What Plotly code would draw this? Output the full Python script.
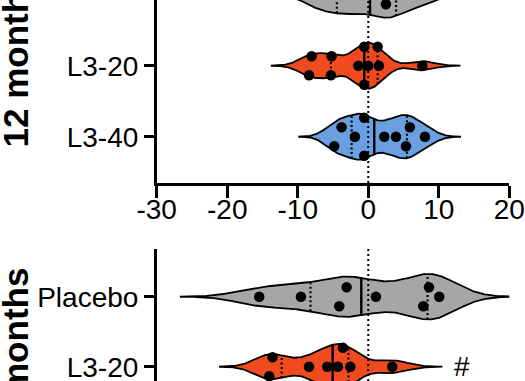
import numpy as np
import plotly.graph_objects as go

# ---------------- data ----------------
x_ticks = [-30, -20, -10, 0, 10, 20]
x_tick_labels = [str(t) for t in x_ticks]

# top panel (12 months); Placebo row is mostly outside the visible crop
top_categories = ["Placebo", "L3-20", "L3-40"]
placebo_12m = [-8.2, -6.3, -4.8, -3.4, -2.0, -0.6, 1.1, 2.5, 2.9, 4.3, 6.0, 8.3]
l3_20_12m = [-8.4, -8.03, -5.3, -5.2, -1.4, -0.57, -0.57, 0.0, 1.33, 1.5, 7.66]
l3_40_12m = [-4.82, -3.78, -1.89, -0.57, -0.57, 2.27, 3.93, 5.35, 5.9, 8.04]

# bottom panel ("... months")
bottom_categories = ["Placebo", "L3-20"]
placebo_b = [-15.46, -9.55, -4.11, -3.07, 1.09, 7.8, 8.61, 10.07]
l3_20_b = [-14.04, -13.57, -8.4, -5.8, -4.3, -3.6, -2.55, 3.4]

colors = {"Placebo": "#a6a6a6", "L3-20": "#f04a1e", "L3-40": "#6aa0e0"}

FONT = "Liberation Sans, Arial, sans-serif"
W, H = 525, 381

# layout geometry (pixels)
X0_PX, X1_PX = 156.7, 509.3
TOP_BOTTOM_PX = 183.0
BOT_TOP_PX = 249.0
top_range = [-0.652, 1.925]
bot_range = [-0.204, 1.681]
sx = (X1_PX - X0_PX) / 50.0          # px per x unit
sy_top = TOP_BOTTOM_PX / (top_range[1] - top_range[0])
sy_bot = (H - BOT_TOP_PX) / (bot_range[1] - bot_range[0])
HALF = 0.325                          # max half width of violins (category units)


def quartiles(v):
    return np.percentile(v, [25, 50, 75], method="weibull")


def bandwidth(v):
    v = np.asarray(v, float)
    q1, _, q3 = quartiles(v)
    return 0.58 * min(v.std(ddof=1), (q3 - q1) / 1.349) * len(v) ** -0.2


def kde(v, h, ext=3.2, n=400):
    v = np.asarray(v, float)
    g = np.linspace(v.min() - ext * h, v.max() + ext * h, n)
    d = np.exp(-0.5 * ((g[:, None] - v[None, :]) / h) ** 2).sum(1)
    return g, d / d.max()


def swarm(v, sy, d=9.6, s=9.5):
    """Beeswarm-style vertical offsets (in axis units) computed from the values."""
    v = np.asarray(v, float)
    order = np.argsort(v, kind="stable")
    placed = []
    off = np.zeros(len(v))
    cands = [0.0]
    for j in range(1, 6):
        cands += [2 * j * s, -2 * j * s]
    for i in order:
        xp = v[i] * sx
        for c in cands:
            if all((xp - px) ** 2 + (c - py) ** 2 >= d * d for px, py in placed):
                break
        placed.append((xp, c))
        off[i] = c
    # isolated close pairs are split symmetrically
    xs = v[order] * sx
    groups = [[order[0]]]
    for a, b, idx in zip(xs[:-1], xs[1:], order[1:]):
        if b - a < d:
            groups[-1].append(idx)
        else:
            groups.append([idx])
    for gr in groups:
        if len(gr) == 2:
            off[gr[0]], off[gr[1]] = -s, s
    return off / sy


fig = go.Figure()


def add_violin(vals, pos, name, xa, ya, sy):
    vals = np.asarray(vals, float)
    h = bandwidth(vals)
    g, d = kde(vals, h)
    fig.add_trace(go.Scatter(
        x=np.concatenate([g, g[::-1]]),
        y=np.concatenate([pos + HALF * d, (pos - HALF * d)[::-1]]),
        fill="toself", fillcolor=colors[name], mode="lines",
        line=dict(color="black", width=1.8), xaxis=xa, yaxis=ya,
        hoverinfo="skip", showlegend=False))
    q1, med, q3 = quartiles(vals)
    qx, qy = [], []
    for q in (q1, q3):
        w = HALF * np.interp(q, g, d)
        qx += [q, q, None]
        qy += [pos - w, pos + w, None]
    fig.add_trace(go.Scatter(x=qx, y=qy, mode="lines",
                             line=dict(color="black", width=2.2, dash="2px,2.5px"),
                             xaxis=xa, yaxis=ya, hoverinfo="skip", showlegend=False))
    w = HALF * np.interp(med, g, d)
    fig.add_trace(go.Scatter(x=[med, med], y=[pos - w, pos + w], mode="lines",
                             line=dict(color="black", width=2.4),
                             xaxis=xa, yaxis=ya, hoverinfo="skip", showlegend=False))
    off = swarm(vals, sy)
    fig.add_trace(go.Scatter(x=vals, y=pos + off, mode="markers",
                             marker=dict(color="black", size=10.5),
                             xaxis=xa, yaxis=ya, hoverinfo="skip", showlegend=False))


top_pos = {"Placebo": 2, "L3-20": 1, "L3-40": 0}
bot_pos = {"Placebo": 1, "L3-20": 0}

add_violin(placebo_12m, top_pos["Placebo"], "Placebo", "x", "y", sy_top)
add_violin(l3_20_12m, top_pos["L3-20"], "L3-20", "x", "y", sy_top)
add_violin(l3_40_12m, top_pos["L3-40"], "L3-40", "x", "y", sy_top)
add_violin(placebo_b, bot_pos["Placebo"], "Placebo", "x2", "y2", sy_bot)
add_violin(l3_20_b, bot_pos["L3-20"], "L3-20", "x2", "y2", sy_bot)

TICK_SIZE = 28
xdom = [X0_PX / W, X1_PX / W]
axis_common = dict(showline=True, linecolor="black", linewidth=2.5, ticks="outside",
                   tickcolor="black", tickwidth=2.5, showgrid=False, zeroline=False,
                   automargin=False, ticklabeloverflow="allow",
                   tickfont=dict(family=FONT, size=TICK_SIZE, color="black"))

fig.update_layout(
    template="none",
    width=W, height=H, margin=dict(l=0, r=0, t=0, b=0, pad=0, autoexpand=False),
    paper_bgcolor="white", plot_bgcolor="white",
    font=dict(family=FONT, color="black"),
    xaxis=dict(domain=xdom, range=[-30, 20], anchor="y", tickvals=x_ticks,
               ticktext=x_tick_labels, ticklen=12, ticklabelstandoff=-12, **axis_common),
    yaxis=dict(domain=[1 - TOP_BOTTOM_PX / H, 1], range=top_range, anchor="x",
               tickvals=[top_pos[c] for c in top_categories],
               ticktext=top_categories, ticklen=10, ticklabelstandoff=0, **axis_common),
    xaxis2=dict(domain=xdom, range=[-30, 20], anchor="y2", visible=False),
    yaxis2=dict(domain=[0, 1 - BOT_TOP_PX / H], range=bot_range, anchor="x2",
                tickvals=[bot_pos[c] for c in bottom_categories],
                ticktext=bottom_categories, ticklen=10, ticklabelstandoff=0, **axis_common),
    shapes=[
        dict(type="line", xref="x", yref="y domain", x0=0, x1=0, y0=0, y1=1,
             line=dict(color="black", width=2, dash="2px,3px"), layer="above"),
        dict(type="line", xref="x2", yref="y2 domain", x0=0, x1=0, y0=0, y1=1,
             line=dict(color="black", width=2, dash="2px,3px"), layer="above"),
    ],
    annotations=[
        dict(text="Placebo", xref="paper", yref="y", x=138 / W, y=top_pos["Placebo"],
             xanchor="right", yanchor="middle", showarrow=False,
             font=dict(family=FONT, size=TICK_SIZE, color="black")),
        dict(text="<b>12 months</b>", textangle=-90, xref="paper", yref="paper",
             x=15 / W, y=1 - 150 / H, xanchor="center", yanchor="bottom", showarrow=False,
             font=dict(family=FONT, size=35, color="black")),
        dict(text="<b>months</b>", textangle=-90, xref="paper", yref="paper",
             x=15 / W, y=1 - 266 / H, xanchor="center", yanchor="top", showarrow=False,
             font=dict(family=FONT, size=35, color="black")),
        dict(text="#", xref="paper", yref="y2", x=461.7 / W, y=bot_pos["L3-20"],
             xanchor="center", yanchor="middle", showarrow=False,
             font=dict(family=FONT, size=TICK_SIZE, color="black")),
    ],
)

fig.write_html(
    "out.html",
    config={"displayModeBar": False},
    post_script="document.body.style.margin='0px';document.body.style.overflow='hidden';",
)
